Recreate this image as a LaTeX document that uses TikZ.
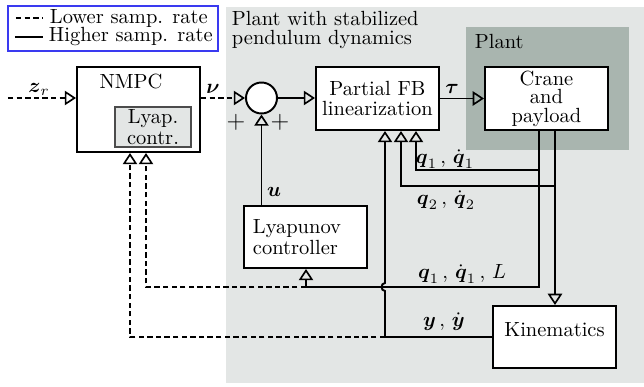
\documentclass[tikz,border=0pt]{standalone}
\usepackage{amsmath,amssymb}
\usetikzlibrary{arrows.meta,calc}
\definecolor{bglight}{HTML}{E3E6E5}
\definecolor{plantbg}{HTML}{A9B5AF}
\definecolor{legblue}{HTML}{3A3AF0}
\begin{document}
\begin{tikzpicture}[x=0.4878pt,y=-0.4878pt, line width=0.95pt,
  block/.style={draw, fill=white, minimum width=123*0.4878pt, minimum height=63*0.4878pt, align=center, inner sep=0pt, font=\fontsize{10}{10}\selectfont},
  tip/.style={-{Triangle[open,length=5.5pt,width=7pt,line width=0.8pt]}},
  dsh/.style={dash pattern=on 2.6pt off 1.6pt},
  lbl/.style={inner sep=0pt}]
\useasboundingbox (0,0) rectangle (644,387);
\fill[bglight] (226,7) rectangle (644,383);
\fill[plantbg] (466,27) rectangle (629,150);

% legend
\node[draw=legblue, minimum width=210*0.4878pt, minimum height=45*0.4878pt, inner sep=0pt] (legend) at (113,28.5) {};
\coordinate (la) at (16,18); \coordinate (lb) at (42,18);
\coordinate (lc) at (15,37); \coordinate (ld) at (43,37);
\draw[dsh] (la) -- (lb);
\draw (lc) -- (ld);
\node[anchor=west, inner sep=0pt] (lowtxt) at (49,18) {Lower samp. rate};
\node[anchor=west, inner sep=0pt] (hightxt) at (48,37) {Higher samp. rate};

% titles
\node[anchor=west, align=left, inner sep=0pt, font=\fontsize{10}{9.5}\selectfont] (plantstab) at (231,30) {Plant with stabilized\\pendulum dynamics};
\node[anchor=west, inner sep=0pt] (planttxt) at (474,42) {Plant};

% blocks
\node[block, minimum height=85*0.4878pt] (nmpc) at (138.5,109.5) {};
\node[inner sep=0pt] (nmpctxt) at (131,82) {NMPC};
\node[draw=black!70, fill=bglight, minimum width=76*0.4878pt, minimum height=40*0.4878pt, align=center, inner sep=0pt, line width=0.6pt, font=\fontsize{10}{10.5}\selectfont] (lyapc) at (153,127) {Lyap.\\contr.};
\node[draw, fill=white, circle, minimum size=31*0.4878pt, inner sep=0pt] (sum) at (261.5,98) {};
\node[block] (fb) at (377.5,98.5) {Partial FB\\linearization};
\node[block, font=\fontsize{10}{9}\selectfont] (crane) at (546.5,98.5) {Crane\\and\\payload};
\node[block, align=left, text width=105*0.4878pt, inner xsep=9*0.4878pt, minimum height=62*0.4878pt, font=\fontsize{10}{10.5}\selectfont] (lyap) at (305.5,237) {Lyapunov\\controller};
\node[block, minimum height=62*0.4878pt, text height=7pt, text depth=7pt] (kin) at (554.5,337) {Kinematics};

% coordinates
\coordinate (zin) at (8,98);
\coordinate (o1) at (539,0 |- crane.south);
\coordinate (o2) at (555,0 |- crane.south);
\coordinate (a170) at (539,170);
\coordinate (a287) at (539,287);
\coordinate (b186) at (555,186);
\coordinate (lyin) at (306,287);
\coordinate (nm2) at (146,287);
\coordinate (kj) at (385,0 |- kin.west);
\coordinate (hopb) at (385,291);
\coordinate (hopt) at (385,283);
\coordinate (nm1) at (130,0 |- kin.west);

% connectors
\draw[dsh,tip] (zin) -- (zin -| nmpc.west);
\draw[dsh,tip] (nmpc.east |- sum) -- (sum.west);
\draw[tip] (sum.east) -- (sum.east -| fb.west);
\draw[tip] (fb.east) -- (crane.west);
\draw[tip] (sum |- lyap.north) -- (sum.south);

\draw (o1) -- (a287) -- (lyin);
\draw[tip] (lyin) -- (lyin |- lyap.south);
\draw[dsh,tip] (lyin) -- (nm2) -- (nm2 |- nmpc.south);
\draw[tip] (a170) -- (416,170) -- (416,0 |- fb.south);
\draw[tip] (o2) -- (o2 |- kin.north);
\draw[tip] (b186) -- (401,186) -- (401,0 |- fb.south);
\draw[tip] (kin.west) -- (kj) -- (hopb) .. controls (380.5,291) and (380.5,283) .. (hopt) -- (385,0 |- fb.south);
\draw[dsh,tip] (kj) -- (nm1) -- (nm1 |- nmpc.south);

% labels
\node[lbl] (zr) at (39,89) {$\boldsymbol{z}_r$};
\node[lbl] (nu) at (213,89) {$\boldsymbol{\nu}$};
\node[lbl] (tau) at (452,89) {$\boldsymbol{\tau}$};
\node[lbl] (ulbl) at (274,192) {$\boldsymbol{u}$};
\node[lbl] (q1l) at (445,159) {$\boldsymbol{q}_1\,,\,\dot{\boldsymbol{q}}_1$};
\node[lbl] (q2l) at (446,200) {$\boldsymbol{q}_2\,,\,\dot{\boldsymbol{q}}_2$};
\node[lbl] (q1Ll) at (462,274) {$\boldsymbol{q}_1\,,\,\dot{\boldsymbol{q}}_1\,,\,L$};
\node[lbl] (yl) at (444,322) {$\boldsymbol{y}\,,\,\dot{\boldsymbol{y}}$};
\node[lbl, font=\large] (p1) at (236,122) {$+$};
\node[lbl, font=\large] (p2) at (280,122) {$+$};
\end{tikzpicture}
\end{document}
